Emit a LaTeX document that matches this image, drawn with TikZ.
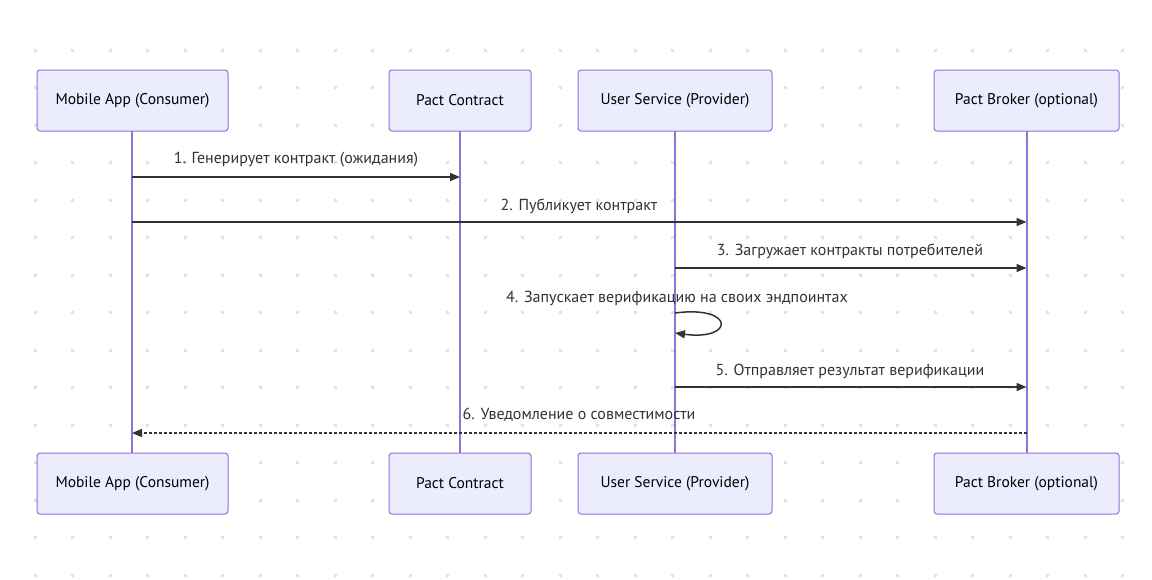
\documentclass[tikz,border=0pt]{standalone}
\usepackage{fontspec}
\setmainfont{PT Sans}
\usetikzlibrary{arrows.meta}
\definecolor{boxfill}{HTML}{ECECFF}
\definecolor{boxline}{HTML}{9370DB}
\definecolor{txt}{HTML}{333333}
\definecolor{dotc}{HTML}{E2E2E2}
\tikzset{
  actor/.style={draw=boxline, fill=boxfill, line width=1pt, rounded corners=3pt,
    minimum height=61pt, inner sep=0pt, text=black, font=\fontsize{15.5}{18}\selectfont},
  life/.style={draw=boxline, line width=2pt},
  msg/.style={draw=txt, line width=1.5pt, -{Triangle[length=10pt,width=8pt]}},
  reply/.style={msg, dash pattern=on 3pt off 2pt},
  lbl/.style={text=txt, font=\fontsize{16}{19}\selectfont, inner sep=0pt}
}
\begin{document}
\begin{tikzpicture}[x=1pt,y=-1pt]
\useasboundingbox (0,0) rectangle (1152,579);
\fill[white] (0,0) rectangle (1152,579);
% dot grid
\foreach \i in {0,...,30} {
  \foreach \j in {0,...,14} {
    \fill[dotc] ({35+37.5*\i-1.5},{50+37.5*\j-1.5}) rectangle ++(3,3);
  }
}
% lifelines
\coordinate (l1t) at (132,131); \coordinate (l1b) at (132,453);
\coordinate (l2t) at (460,131); \coordinate (l2b) at (460,453);
\coordinate (l3t) at (675,131); \coordinate (l3b) at (675,453);
\coordinate (l4t) at (1026.5,131); \coordinate (l4b) at (1026.5,453);
\draw[life] (l1t) -- (l1b);
\draw[life] (l2t) -- (l2b);
\draw[life] (l3t) -- (l3b);
\draw[life] (l4t) -- (l4b);
% actors top
\node[actor, minimum width=191pt] (a1) at (132.5,100.5) {Mobile App (Consumer)};
\node[actor, minimum width=142pt] (a2) at (460,100.5) {Pact Contract};
\node[actor, minimum width=194pt] (a3) at (675,100.5) {User Service (Provider)};
\node[actor, minimum width=185pt] (a4) at (1026.5,100.5) {Pact Broker (optional)};
% actors bottom
\node[actor, minimum width=191pt] (b1) at (132.5,483.5) {Mobile App (Consumer)};
\node[actor, minimum width=142pt] (b2) at (460,483.5) {Pact Contract};
\node[actor, minimum width=194pt] (b3) at (675,483.5) {User Service (Provider)};
\node[actor, minimum width=185pt] (b4) at (1026.5,483.5) {Pact Broker (optional)};
% message points
\coordinate (m1s) at (132,177); \coordinate (m1e) at (460,177);
\coordinate (m2s) at (132,222); \coordinate (m2e) at (1026.5,222);
\coordinate (m3s) at (675,268); \coordinate (m3e) at (1026.5,268);
\coordinate (m4s) at (675,313); \coordinate (m4e) at (675,333);
\coordinate (m5s) at (675,387); \coordinate (m5e) at (1026.5,387);
\coordinate (m6s) at (1026.5,433); \coordinate (m6e) at (132,433);
\draw[msg] (m1s) -- (m1e);
\draw[msg] (m2s) -- (m2e);
\draw[msg] (m3s) -- (m3e);
\draw[msg] (m4s) .. controls (735,305) and (735,341) .. (m4e);
\draw[msg] (m5s) -- (m5e);
\draw[reply] (m6s) -- (m6e);
% labels
\node[lbl] (t1) at (296,160) {1. Генерирует контракт (ожидания)};
\node[lbl] (t2) at (579,206) {2. Публикует контракт};
\node[lbl] (t3) at (850,251) {3. Загружает контракты потребителей};
\node[lbl] (t4) at (677,298) {4. Запускает верификацию на своих эндпоинтах};
\node[lbl] (t5) at (850,371) {5. Отправляет результат верификации};
\node[lbl] (t6) at (579,415) {6. Уведомление о совместимости};
\end{tikzpicture}
\end{document}
